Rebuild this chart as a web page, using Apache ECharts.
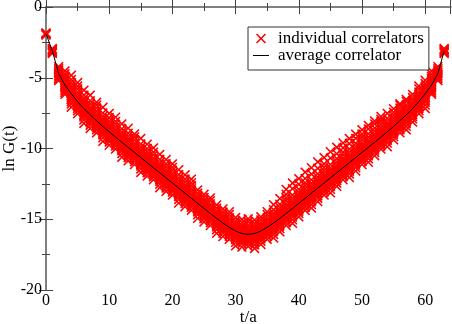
<!DOCTYPE html>
<html>
<head>
<meta charset="utf-8">
<script src="https://cdn.jsdelivr.net/npm/echarts@6/dist/echarts.min.js"></script>
<style>html,body{margin:0;padding:0;background:#fff}#c{width:452px;height:324px}</style>
</head>
<body>
<div id="c"></div>
<script>
const times = [0,1,2,3,4,5,6,7,8,9,10,11,12,13,14,15,16,17,18,19,20,21,22,23,24,25,26,27,28,29,30,31,32,33,34,35,36,37,38,39,40,41,42,43,44,45,46,47,48,49,50,51,52,53,54,55,56,57,58,59,60,61,62,63];

const avgLogG = [-1.9,-3.1,-4.7,-5.52,-6.13,-6.69,-7.18,-7.63,-8.04,-8.44,-8.82,-9.19,-9.56,-9.92,-10.28,-10.64,-11.00,-11.36,-11.72,-12.08,-12.44,-12.80,-13.16,-13.52,-13.88,-14.24,-14.59,-14.94,-15.27,-15.57,-15.83,-16.01,-16.07,-16.01,-15.83,-15.57,-15.27,-14.94,-14.59,-14.24,-13.88,-13.52,-13.16,-12.80,-12.44,-12.08,-11.72,-11.36,-11.00,-10.64,-10.28,-9.92,-9.56,-9.19,-8.82,-8.44,-8.04,-7.63,-7.18,-6.69,-6.13,-5.52,-4.7,-3.1];

const indivLogG = [
[-1.98,-1.94,-1.9,-1.87,-1.83],
[-3.28,-3.2,-3.14,-3.07,-3.0,-2.94],
[-5.2,-5.08,-4.96,-4.84,-4.72,-4.6,-4.48,-4.36,-4.22],
[-6.17,-6.04,-5.92,-5.8,-5.68,-5.56,-5.44,-5.32,-5.19,-5.05,-4.9,-4.72,-4.52],
[-7.08,-6.85,-6.68,-6.53,-6.4,-6.27,-6.13,-5.99,-5.85,-5.71,-5.55,-5.35,-5.13,-4.83],
[-7.54,-7.33,-7.17,-7.03,-6.89,-6.76,-6.62,-6.49,-6.35,-6.19,-6.01,-5.79,-5.59,-5.34],
[-8.23,-7.98,-7.78,-7.63,-7.49,-7.35,-7.21,-7.08,-6.94,-6.8,-6.64,-6.46,-6.23,-5.88],
[-8.58,-8.35,-8.18,-8.03,-7.9,-7.77,-7.63,-7.49,-7.35,-7.21,-7.05,-6.85,-6.63,-6.23],
[-8.89,-8.68,-8.52,-8.38,-8.24,-8.11,-7.97,-7.84,-7.7,-7.54,-7.36,-7.14,-6.94,-6.74],
[-9.49,-9.24,-9.04,-8.89,-8.75,-8.61,-8.47,-8.34,-8.2,-8.06,-7.9,-7.72,-7.49,-7.09],
[-9.77,-9.54,-9.37,-9.22,-9.09,-8.96,-8.82,-8.68,-8.54,-8.4,-8.24,-8.04,-7.82,-7.52],
[-10.04,-9.83,-9.67,-9.53,-9.39,-9.26,-9.12,-8.99,-8.85,-8.69,-8.51,-8.29,-8.09,-7.79],
[-10.61,-10.36,-10.16,-10.01,-9.87,-9.73,-9.59,-9.46,-9.32,-9.18,-9.02,-8.84,-8.61,-8.26],
[-10.87,-10.64,-10.47,-10.32,-10.19,-10.06,-9.92,-9.78,-9.64,-9.5,-9.34,-9.14,-8.92,-8.57],
[-11.13,-10.92,-10.76,-10.62,-10.48,-10.35,-10.21,-10.08,-9.94,-9.78,-9.6,-9.38,-9.18,-8.98],
[-11.69,-11.44,-11.24,-11.09,-10.95,-10.81,-10.67,-10.54,-10.4,-10.26,-10.1,-9.92,-9.69,-9.29],
[-11.95,-11.72,-11.55,-11.4,-11.27,-11.14,-11.0,-10.86,-10.72,-10.58,-10.42,-10.22,-10.0,-9.7],
[-12.21,-12.0,-11.84,-11.7,-11.56,-11.43,-11.29,-11.16,-11.02,-10.86,-10.68,-10.46,-10.26,-9.96],
[-12.77,-12.52,-12.32,-12.17,-12.03,-11.89,-11.75,-11.62,-11.48,-11.34,-11.18,-11.0,-10.77,-10.42],
[-13.03,-12.8,-12.63,-12.48,-12.35,-12.22,-12.08,-11.94,-11.8,-11.66,-11.5,-11.3,-11.08,-10.78],
[-13.29,-13.08,-12.92,-12.78,-12.64,-12.51,-12.37,-12.24,-12.1,-11.94,-11.76,-11.54,-11.34,-11.09],
[-13.85,-13.6,-13.4,-13.25,-13.11,-12.97,-12.83,-12.7,-12.56,-12.42,-12.26,-12.08,-11.85,-11.5],
[-14.11,-13.88,-13.71,-13.56,-13.43,-13.3,-13.16,-13.02,-12.88,-12.74,-12.58,-12.38,-12.16,-11.86],
[-14.37,-14.16,-14.0,-13.86,-13.72,-13.59,-13.45,-13.32,-13.18,-13.02,-12.84,-12.62,-12.42,-12.17],
[-14.93,-14.68,-14.48,-14.33,-14.19,-14.05,-13.91,-13.78,-13.64,-13.5,-13.34,-13.16,-12.93],
[-15.19,-14.96,-14.79,-14.64,-14.51,-14.38,-14.24,-14.1,-13.96,-13.82,-13.66,-13.46,-13.24],
[-15.44,-15.23,-15.07,-14.93,-14.79,-14.66,-14.52,-14.39,-14.25,-14.09,-13.91,-13.69,-13.49],
[-15.99,-15.74,-15.54,-15.39,-15.25,-15.11,-14.97,-14.84,-14.7,-14.56,-14.4,-14.22,-13.99],
[-16.22,-15.99,-15.82,-15.67,-15.54,-15.41,-15.27,-15.13,-14.99,-14.85,-14.69,-14.49,-14.27],
[-16.42,-16.21,-16.05,-15.91,-15.77,-15.64,-15.5,-15.37,-15.23,-15.07,-14.89,-14.67,-14.47],
[-16.88,-16.63,-16.43,-16.28,-16.14,-16.0,-15.86,-15.73,-15.59,-15.45,-15.29,-15.11,-14.88],
[-16.96,-16.73,-16.56,-16.41,-16.28,-16.15,-16.01,-15.87,-15.73,-15.59,-15.43,-15.23,-15.01],
[-16.92,-16.71,-16.55,-16.41,-16.27,-16.14,-16.0,-15.87,-15.73,-15.57,-15.39,-15.17,-14.97],
[-17.06,-16.81,-16.61,-16.46,-16.32,-16.18,-16.04,-15.91,-15.77,-15.63,-15.47,-15.29,-15.06],
[-16.78,-16.55,-16.38,-16.23,-16.1,-15.97,-15.83,-15.69,-15.55,-15.41,-15.25,-15.05,-14.83],
[-16.42,-16.21,-16.05,-15.91,-15.77,-15.64,-15.5,-15.37,-15.23,-15.07,-14.89,-14.67,-14.47],
[-16.32,-16.07,-15.87,-15.72,-15.58,-15.44,-15.3,-15.17,-15.03,-14.89,-14.73,-14.55,-14.32,-13.97],
[-15.89,-15.66,-15.49,-15.34,-15.21,-15.08,-14.94,-14.8,-14.66,-14.52,-14.36,-14.16,-13.94,-13.54],
[-15.44,-15.23,-15.07,-14.93,-14.79,-14.66,-14.52,-14.39,-14.25,-14.09,-13.91,-13.69,-13.49,-13.24,-12.89],
[-15.29,-15.04,-14.84,-14.69,-14.55,-14.41,-14.27,-14.14,-14.0,-13.86,-13.7,-13.52,-13.29,-12.84,-12.44],
[-14.83,-14.6,-14.43,-14.28,-14.15,-14.02,-13.88,-13.74,-13.6,-13.46,-13.3,-13.1,-12.88,-12.53,-12.13],
[-14.37,-14.16,-14.0,-13.86,-13.72,-13.59,-13.45,-13.32,-13.18,-13.02,-12.84,-12.62,-12.42,-12.12,-11.67],
[-14.21,-13.96,-13.76,-13.61,-13.47,-13.33,-13.19,-13.06,-12.92,-12.78,-12.62,-12.44,-12.21,-11.81,-11.36],
[-13.75,-13.52,-13.35,-13.2,-13.07,-12.94,-12.8,-12.66,-12.52,-12.38,-12.22,-12.02,-11.8,-11.4,-10.95],
[-13.29,-13.08,-12.92,-12.78,-12.64,-12.51,-12.37,-12.24,-12.1,-11.94,-11.76,-11.54,-11.34,-11.09,-10.64],
[-13.13,-12.88,-12.68,-12.53,-12.39,-12.25,-12.11,-11.98,-11.84,-11.7,-11.54,-11.36,-11.13,-10.68,-10.23],
[-12.67,-12.44,-12.27,-12.12,-11.99,-11.86,-11.72,-11.58,-11.44,-11.3,-11.14,-10.94,-10.72,-10.37,-9.92],
[-12.21,-12.0,-11.84,-11.7,-11.56,-11.43,-11.29,-11.16,-11.02,-10.86,-10.68,-10.46,-10.26,-9.96,-9.61],
[-12.05,-11.8,-11.6,-11.45,-11.31,-11.17,-11.03,-10.9,-10.76,-10.62,-10.46,-10.28,-10.05,-9.65,-9.3],
[-11.59,-11.36,-11.19,-11.04,-10.91,-10.78,-10.64,-10.5,-10.36,-10.22,-10.06,-9.86,-9.64,-9.29,-8.99],
[-11.13,-10.92,-10.76,-10.62,-10.48,-10.35,-10.21,-10.08,-9.94,-9.78,-9.6,-9.38,-9.18,-8.98,-8.68],
[-10.97,-10.72,-10.52,-10.37,-10.23,-10.09,-9.95,-9.82,-9.68,-9.54,-9.38,-9.2,-8.97,-8.62,-8.37],
[-10.51,-10.28,-10.11,-9.96,-9.83,-9.7,-9.56,-9.42,-9.28,-9.14,-8.98,-8.78,-8.56,-8.26,-8.06],
[-10.04,-9.83,-9.67,-9.53,-9.39,-9.26,-9.12,-8.99,-8.85,-8.69,-8.51,-8.29,-8.09,-7.94,-7.74],
[-9.87,-9.62,-9.42,-9.27,-9.13,-8.99,-8.85,-8.72,-8.58,-8.44,-8.28,-8.1,-7.87,-7.52],
[-9.39,-9.16,-8.99,-8.84,-8.71,-8.58,-8.44,-8.3,-8.16,-8.02,-7.86,-7.66,-7.44,-7.19],
[-8.89,-8.68,-8.52,-8.38,-8.24,-8.11,-7.97,-7.84,-7.7,-7.54,-7.36,-7.14,-6.94,-6.84],
[-8.68,-8.43,-8.23,-8.08,-7.94,-7.8,-7.66,-7.53,-7.39,-7.25,-7.09,-6.91,-6.68,-6.53],
[-8.13,-7.9,-7.73,-7.58,-7.45,-7.32,-7.18,-7.04,-6.9,-6.76,-6.6,-6.4,-6.18],
[-7.54,-7.33,-7.17,-7.03,-6.89,-6.76,-6.62,-6.49,-6.35,-6.19,-6.01,-5.79,-5.59],
[-7.18,-6.93,-6.73,-6.58,-6.44,-6.3,-6.16,-6.03,-5.89,-5.75,-5.59,-5.41,-5.18],
[-6.17,-6.04,-5.92,-5.8,-5.68,-5.56,-5.44,-5.32,-5.19,-5.05,-4.9,-4.72,-4.52],
[-5.2,-5.08,-4.96,-4.84,-4.72,-4.6,-4.48,-4.36,-4.22],
[-3.28,-3.2,-3.14,-3.07,-3.0,-2.94]
];

const seriesNames = ['individual correlators', 'average correlator'];
const xAxisTitle = 't/a';
const yAxisTitle = 'ln G(t)';

const scatterPts = [];
times.forEach((t, i) => indivLogG[i].forEach(v => scatterPts.push([t, v])));
const avgPts = times.map((t, i) => [t, avgLogG[i]]);

const FONT = 'Liberation Serif';
const crossPath = 'path://M0,1.1L1.1,0L5,3.9L8.9,0L10,1.1L6.1,5L10,8.9L8.9,10L5,6.1L1.1,10L0,8.9L3.9,5Z';
const lineIcon = 'path://M0,0L16,0L16,1L0,1Z';

const axisLine = {show: true, lineStyle: {color: '#808080', width: 2}};
const tick = {show: true, inside: true, length: 7, lineStyle: {color: '#444', width: 1}};
const minorTick = {show: true, splitNumber: 2, length: 4, lineStyle: {color: '#444', width: 1}};
const label = {fontFamily: FONT, fontSize: 16, color: '#000'};

const chart = echarts.init(document.getElementById('c'), null, {renderer: 'canvas'});
chart.setOption({
  animation: false,
  backgroundColor: '#fff',
  grid: {left: 46, right: 1.5, top: 7, bottom: 34, containLabel: false, outerBoundsMode: 'none'},
  legend: {
    orient: 'vertical', left: 248, top: 27,
    padding: [3, 5, 6, 5], itemGap: 0,
    itemWidth: 16, itemHeight: 10,
    borderColor: '#333', borderWidth: 1, backgroundColor: '#fff',
    textStyle: {fontFamily: FONT, fontSize: 17, color: '#000', lineHeight: 15, padding: [0, 0, 0, 4]},
    data: [
      {name: seriesNames[0]},
      {name: seriesNames[1], icon: lineIcon, itemStyle: {color: '#000'}}
    ]
  },
  xAxis: [
    {type: 'value', min: 0, max: 64, interval: 10, position: 'bottom',
     axisLine, axisTick: tick, minorTick, splitLine: {show: false},
     axisLabel: Object.assign({margin: 3, showMaxLabel: false}, label),
     name: xAxisTitle, nameLocation: 'middle', nameGap: 19, nameMoveOverlap: false,
     nameTextStyle: {fontFamily: FONT, fontSize: 17, color: '#000'}},
    {type: 'value', min: 0, max: 64, interval: 10, position: 'top',
     axisLine, axisTick: tick, minorTick, splitLine: {show: false},
     axisLabel: {show: false}}
  ],
  yAxis: [
    {type: 'value', min: -20, max: 0, interval: 5, position: 'left',
     axisLine, axisTick: tick, minorTick, splitLine: {show: false},
     axisLabel: Object.assign({margin: 4}, label),
     name: yAxisTitle, nameLocation: 'middle', nameGap: 28, nameRotate: 90, nameMoveOverlap: false,
     nameTextStyle: {fontFamily: FONT, fontSize: 17, color: '#000'}},
    {type: 'value', min: -20, max: 0, interval: 5, position: 'right',
     axisLine, axisTick: tick, minorTick, splitLine: {show: false},
     axisLabel: {show: false}}
  ],
  series: [
    {name: seriesNames[0], type: 'scatter', xAxisIndex: 0, yAxisIndex: 0,
     data: scatterPts, symbol: crossPath, symbolSize: 10,
     itemStyle: {color: '#ff0000', opacity: 1}, z: 2},
    {name: seriesNames[1], type: 'line', xAxisIndex: 0, yAxisIndex: 0,
     data: avgPts, symbol: 'none', smooth: false,
     lineStyle: {color: '#000', width: 1}, itemStyle: {color: '#000'}, z: 3}
  ]
});
</script>
</body>
</html>
